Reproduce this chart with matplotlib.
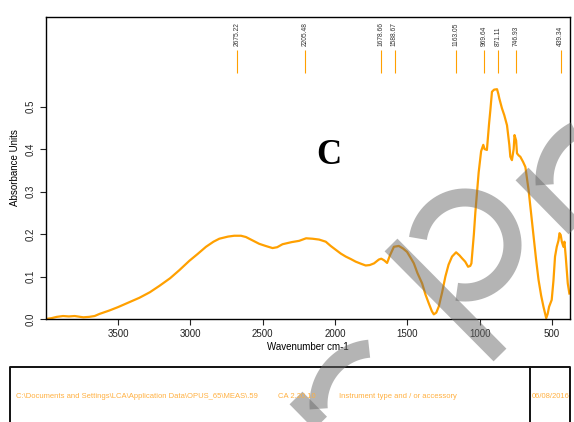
import matplotlib
matplotlib.use("Agg")
import matplotlib.pyplot as plt
import numpy as np

plt.rcParams['font.family'] = ['Liberation Sans', 'DejaVu Sans']

# spectrum (wavenumber cm-1, absorbance)
wavenumber = [4000, 3960, 3924, 3880, 3840, 3800, 3740, 3700, 3662, 3628, 3560, 3500,
              3420, 3352, 3280, 3214, 3140, 3076, 3007, 2950, 2892, 2840, 2800, 2740,
              2697, 2650, 2616, 2570, 2524, 2480, 2432, 2400, 2363, 2300, 2248, 2200,
              2156, 2110, 2064, 2030, 1995, 1960, 1926, 1890, 1857, 1820, 1788, 1760,
              1730, 1697, 1680, 1660, 1640, 1620, 1593, 1559, 1530, 1502, 1470, 1455,
              1430, 1398, 1375, 1352, 1330, 1317, 1300, 1283, 1260, 1237, 1215, 1191,
              1163, 1140, 1122, 1100, 1080, 1065, 1057, 1040, 1030, 1007, 990, 975,
              966, 950, 935, 926, 915, 900, 880, 871, 864, 846, 830, 811, 795, 788,
              777, 765, 759, 748, 742, 730, 719, 700, 684, 662, 645, 628, 610, 593,
              575, 559, 540, 530, 520, 502, 490, 479, 467, 455, 448, 440, 432, 421,
              414, 405, 391, 380]
absorbance = [0.000, 0.002, 0.005, 0.007, 0.006, 0.007, 0.004, 0.005, 0.007, 0.012, 0.020, 0.028,
              0.040, 0.050, 0.063, 0.078, 0.096, 0.115, 0.137, 0.153, 0.170, 0.182, 0.189, 0.194,
              0.196, 0.196, 0.193, 0.185, 0.177, 0.172, 0.167, 0.169, 0.176, 0.181, 0.184, 0.190,
              0.189, 0.187, 0.182, 0.172, 0.163, 0.154, 0.147, 0.141, 0.135, 0.130, 0.126, 0.127,
              0.131, 0.140, 0.142, 0.138, 0.132, 0.150, 0.170, 0.172, 0.166, 0.158, 0.140, 0.131,
              0.108, 0.084, 0.058, 0.037, 0.018, 0.011, 0.015, 0.029, 0.062, 0.100, 0.128, 0.147,
              0.157, 0.150, 0.143, 0.135, 0.123, 0.125, 0.131, 0.200, 0.250, 0.345, 0.395, 0.410,
              0.400, 0.398, 0.460, 0.492, 0.535, 0.540, 0.541, 0.530, 0.519, 0.496, 0.480, 0.456,
              0.410, 0.382, 0.374, 0.400, 0.433, 0.420, 0.390, 0.385, 0.382, 0.370, 0.358, 0.304,
              0.250, 0.194, 0.140, 0.092, 0.055, 0.029, 0.002, 0.012, 0.029, 0.045, 0.090, 0.147,
              0.170, 0.185, 0.202, 0.198, 0.182, 0.170, 0.182, 0.147, 0.084, 0.060]

peaks = [2675.22, 2205.48, 1678.66, 1588.67, 1163.05, 969.64, 871.11, 746.93, 439.34]

footer = ["C:\\Documents and Settings\\LCA\\Application Data\\OPUS_65\\MEAS\\.59",
          "CA 2.20.10", "Instrument type and / or accessory", "06/08/2016"]
footer_x = [16, 278, 339, 532]

orange = '#ffa000'

fig = plt.figure(figsize=(5.74, 4.22), dpi=100)
ax = fig.add_axes([46/574, 1-319/422, (569.5-46)/574, (319-17)/422])
ax.plot(wavenumber, absorbance, color=orange, lw=1.6)
ax.set_xlim(3998, 379)
ax.set_ylim(0, 0.711)

# peak picks
ax.vlines(peaks, 0.579, 0.633, color=orange, lw=0.8)
for p in peaks:
    ax.text(p, 0.643, f"{p:.2f}", rotation=90, ha='center', va='bottom', fontsize=4.8, color='#333333')

ax.set_xticks([3500, 3000, 2500, 2000, 1500, 1000, 500])
ax.set_yticks([0.0, 0.1, 0.2, 0.3, 0.4, 0.5])
ax.set_yticklabels([f"{v:.1f}" for v in ax.get_yticks()], rotation=90, va='center')
ax.tick_params(labelsize=7, length=4, width=0.8, colors='#222222')
ax.set_xlabel('Wavenumber cm-1', fontsize=7, labelpad=2)
ax.set_ylabel('Absorbance Units', fontsize=7, labelpad=4)
for s in ax.spines.values():
    s.set_linewidth(1.0)

ax.text(0.54, 0.54, 'C', transform=ax.transAxes, fontsize=25, fontweight='bold',
        family='Liberation Serif', ha='center', va='center')

# overlay in pixel coordinates: footer box and watermark
ov = fig.add_axes([0, 0, 1, 1], zorder=5)
ov.set_xlim(0, 574)
ov.set_ylim(422, 0)
ov.axis('off')
ov.patch.set_alpha(0)

ov.plot([10, 10, 570, 570], [430, 367, 367, 430], color='#111111', lw=1.4)
ov.plot([530, 530], [367, 430], color='#111111', lw=1.4)
for txt, x in zip(footer, footer_x):
    ov.text(x, 396, txt, fontsize=5.5, color='#ffb040', va='center', ha='left', clip_on=True)

wm = dict(color='#6a6a6a', alpha=0.5, lw=13, solid_capstyle='butt')

def letter_r(sx, sy):
    ov.plot([sx, sx + 110], [sy, sy + 112], **wm)
    a = np.radians(np.linspace(95, 185, 40))
    ov.plot(sx + 78 + 55.5*np.cos(a), sy + 6 - 55.5*np.sin(a), **wm)

# "P"
ov.plot([391, 500], [245, 355], **wm)
a = np.radians(np.linspace(-100, 172, 80))
ov.plot(465 + 47.5*np.cos(a), 245 - 47.5*np.sin(a), **wm)
letter_r(522, 174)
letter_r(296, 398)

fig.savefig('out.png', dpi=100)
